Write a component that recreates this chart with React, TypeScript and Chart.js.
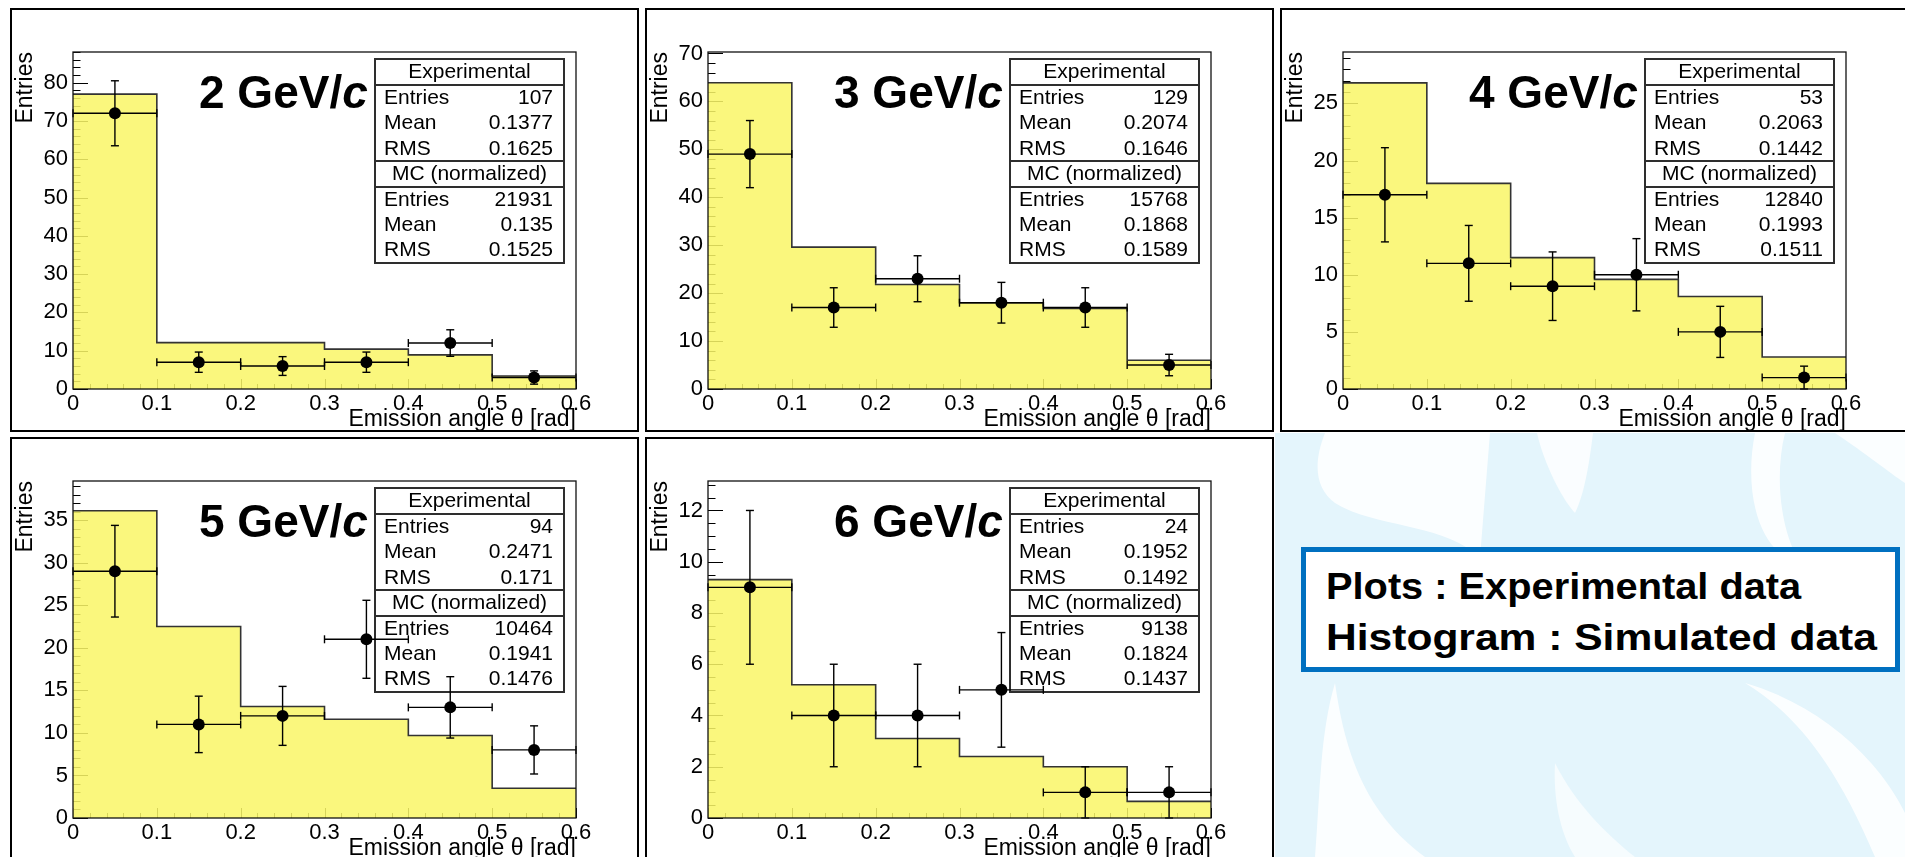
import { useEffect, useRef } from 'react';
import { Chart, registerables } from 'chart.js';

Chart.register(...registerables);

const FONT = "'Liberation Sans', Arial, Helvetica, sans-serif";

// Binning shared by every momentum slice (emission angle in rad)
const binEdges = [0, 0.1, 0.2, 0.3, 0.4, 0.5, 0.6];
const binCenters = [0.05, 0.15, 0.25, 0.35, 0.45, 0.55];
const xTickLabels = ['0', '0.1', '0.2', '0.3', '0.4', '0.5', '0.6'];
const statLabels = ['Entries', 'Mean', 'RMS'];

const momenta = ['2', '3', '4', '5', '6'];

// Measured counts per bin (experimental) and normalized simulation
const exp2 = [72, 7, 6, 7, 12, 3];
const mc2 = [77.0, 12.1, 12.1, 10.4, 8.9, 3.4];
const exp3 = [49, 17, 23, 18, 17, 5];
const mc3 = [63.9, 29.6, 21.8, 18.0, 16.8, 6.0];
const exp4 = [17, 11, 9, 10, 5, 1];
const mc4 = [26.8, 18.0, 11.5, 9.6, 8.1, 2.8];
const exp5 = [29, 11, 12, 21, 13, 8];
const mc5 = [36.1, 22.5, 13.1, 11.6, 9.7, 3.5];
const exp6 = [9, 4, 4, 5, 1, 1];
const mc6 = [9.3, 5.2, 3.1, 2.4, 2.0, 0.65];

// Statistics box contents: [Entries, Mean, RMS]
const expStats2 = ['107', '0.1377', '0.1625'];
const mcStats2 = ['21931', '0.135', '0.1525'];
const expStats3 = ['129', '0.2074', '0.1646'];
const mcStats3 = ['15768', '0.1868', '0.1589'];
const expStats4 = ['53', '0.2063', '0.1442'];
const mcStats4 = ['12840', '0.1993', '0.1511'];
const expStats5 = ['94', '0.2471', '0.171'];
const mcStats5 = ['10464', '0.1941', '0.1476'];
const expStats6 = ['24', '0.1952', '0.1492'];
const mcStats6 = ['9138', '0.1824', '0.1437'];

// Y axis ranges and divisions per slice
const yMaxima = [88, 70.3, 29.5, 39.6, 13.15];
const yMajorSteps = [10, 10, 5, 5, 2];
const yMinorSteps = [2, 2, 1, 1, 0.5];

const expSeries = [exp2, exp3, exp4, exp5, exp6];
const mcSeries = [mc2, mc3, mc4, mc5, mc6];
const expStatsAll = [expStats2, expStats3, expStats4, expStats5, expStats6];
const mcStatsAll = [mcStats2, mcStats3, mcStats4, mcStats5, mcStats6];

// Pad placement on the page (3 x 2 grid)
const padLeft = [10, 645, 1280, 10, 645];
const padTop = [8, 8, 8, 437, 437];
const PAD_W = 629;
const PAD_H = 424;

const HIST_FILL = 'rgba(249,246,104,0.86)';
const HIST_LINE = '#333333';

interface Slice {
  momentum: string;
  exp: number[];
  mc: number[];
  expStats: string[];
  mcStats: string[];
  yMax: number;
  yStep: number;
  yMinor: number;
}

const slices: Slice[] = momenta.map((m, i) => ({
  momentum: m,
  exp: expSeries[i],
  mc: mcSeries[i],
  expStats: expStatsAll[i],
  mcStats: mcStatsAll[i],
  yMax: yMaxima[i],
  yStep: yMajorSteps[i],
  yMinor: yMinorSteps[i],
}));

function line(ctx: CanvasRenderingContext2D, x1: number, y1: number, x2: number, y2: number) {
  ctx.beginPath();
  ctx.moveTo(x1, y1);
  ctx.lineTo(x2, y2);
  ctx.stroke();
}

// Inward ROOT-style tick marks on the left and bottom axes
function drawTicks(chart: any, s: Slice) {
  const { ctx, chartArea: ca } = chart;
  const xs = chart.scales.x;
  const ys = chart.scales.y;
  ctx.save();
  ctx.strokeStyle = '#000';
  ctx.lineWidth = 1;
  const ny = Math.floor(s.yMax / s.yMinor + 1e-9);
  for (let k = 0; k <= ny; k++) {
    const v = k * s.yMinor;
    const r = v / s.yStep;
    const major = Math.abs(r - Math.round(r)) < 1e-6;
    const py = Math.round(ys.getPixelForValue(v)) + 0.5;
    line(ctx, ca.left, py, ca.left + (major ? 15 : 7.5), py);
  }
  for (let k = 0; k <= 30; k++) {
    const v = k * 0.02;
    const major = k % 5 === 0;
    const px = Math.round(xs.getPixelForValue(v)) + 0.5;
    line(ctx, px, ca.bottom, px, ca.bottom - (major ? 10 : 5));
  }
  ctx.restore();
}

function drawFrame(chart: any) {
  const { ctx, chartArea: ca } = chart;
  ctx.save();
  ctx.strokeStyle = '#111';
  ctx.lineWidth = 1.3;
  ctx.strokeRect(ca.left, ca.top, ca.right - ca.left, ca.bottom - ca.top);
  ctx.restore();
}

function drawStatsBox(chart: any, s: Slice) {
  const { ctx, chartArea: ca } = chart;
  const w = 189;
  const h = 204;
  const x0 = ca.right - 12 - w;
  const y0 = ca.top + 7;
  ctx.save();
  ctx.fillStyle = '#fff';
  ctx.fillRect(x0, y0, w, h);
  ctx.strokeStyle = '#2e2e2e';
  ctx.lineWidth = 2;
  ctx.strokeRect(x0, y0, w, h);
  line(ctx, x0, y0 + 26, x0 + w, y0 + 26);
  line(ctx, x0, y0 + 102, x0 + w, y0 + 102);
  line(ctx, x0, y0 + 128, x0 + w, y0 + 128);
  ctx.fillStyle = '#000';
  ctx.font = `21px ${FONT}`;
  ctx.textBaseline = 'middle';
  ctx.textAlign = 'center';
  ctx.fillText('Experimental', x0 + w / 2, y0 + 13);
  ctx.fillText('MC (normalized)', x0 + w / 2, y0 + 115);
  const rowsA = [39, 64, 90];
  const rowsB = [141, 166, 191];
  statLabels.forEach((lab, i) => {
    ctx.textAlign = 'left';
    ctx.fillText(lab, x0 + 9, y0 + rowsA[i]);
    ctx.fillText(lab, x0 + 9, y0 + rowsB[i]);
    ctx.textAlign = 'right';
    ctx.fillText(s.expStats[i], x0 + w - 11, y0 + rowsA[i]);
    ctx.fillText(s.mcStats[i], x0 + w - 11, y0 + rowsB[i]);
  });
  ctx.restore();
}

// Poisson (sqrt N) vertical errors and bin-width horizontal bars
function drawErrorBars(chart: any, s: Slice) {
  const { ctx } = chart;
  const xs = chart.scales.x;
  const ys = chart.scales.y;
  ctx.save();
  ctx.strokeStyle = '#000';
  ctx.lineWidth = 1.4;
  s.exp.forEach((v, i) => {
    const cx = xs.getPixelForValue(binCenters[i]);
    const cy = ys.getPixelForValue(v);
    const xl = xs.getPixelForValue(binEdges[i]);
    const xr = xs.getPixelForValue(binEdges[i + 1]);
    const e = Math.sqrt(v);
    const yt = ys.getPixelForValue(v + e);
    const yb = ys.getPixelForValue(Math.max(0, v - e));
    line(ctx, xl, cy, xr, cy);
    line(ctx, xl, cy - 4, xl, cy + 4);
    line(ctx, xr, cy - 4, xr, cy + 4);
    line(ctx, cx, yt, cx, yb);
    line(ctx, cx - 4, yt, cx + 4, yt);
    line(ctx, cx - 4, yb, cx + 4, yb);
  });
  ctx.restore();
}

function drawTitle(chart: any, s: Slice) {
  const { ctx, chartArea: ca } = chart;
  const x = ca.left + 126;
  const y = ca.top + 56;
  ctx.save();
  ctx.fillStyle = '#000';
  ctx.textBaseline = 'alphabetic';
  ctx.textAlign = 'left';
  ctx.font = `bold 46px ${FONT}`;
  const head = `${s.momentum} GeV/`;
  ctx.fillText(head, x, y);
  const wHead = ctx.measureText(head).width;
  ctx.font = `italic bold 46px ${FONT}`;
  ctx.fillText('c', x + wHead, y);
  ctx.restore();
}

function makeDecor(s: Slice) {
  return {
    id: 'rootPadDecor',
    beforeDatasetsDraw(chart: any) {
      drawTicks(chart, s);
    },
    beforeDatasetDraw(chart: any, args: any) {
      if (args.index !== 1) return;
      drawStatsBox(chart, s);
      drawErrorBars(chart, s);
    },
    afterDatasetsDraw(chart: any) {
      drawFrame(chart);
    },
    afterDraw(chart: any) {
      drawTitle(chart, s);
    },
  };
}

function HistPad({ s, left, top }: { s: Slice; left: number; top: number }) {
  const ref = useRef<HTMLCanvasElement>(null);
  useEffect(() => {
    const canvas = ref.current;
    if (!canvas) return;
    const histPoints = s.mc.map((v, i) => ({ x: binEdges[i], y: v }));
    histPoints.push({ x: binEdges[binEdges.length - 1], y: s.mc[s.mc.length - 1] });
    const chart = new Chart(canvas, {
      type: 'scatter',
      data: {
        datasets: [
          {
            type: 'line',
            label: 'MC (normalized)',
            data: histPoints,
            order: 2,
            stepped: 'before',
            fill: 'origin',
            backgroundColor: HIST_FILL,
            borderColor: HIST_LINE,
            borderWidth: 1.6,
            pointRadius: 0,
            pointHoverRadius: 0,
            tension: 0,
          } as any,
          {
            type: 'scatter',
            label: 'Experimental',
            data: s.exp.map((v, i) => ({ x: binCenters[i], y: v })),
            order: 1,
            backgroundColor: '#000',
            borderColor: '#000',
            borderWidth: 0,
            pointRadius: 6,
            pointHoverRadius: 6,
          },
        ],
      },
      options: {
        animation: false,
        responsive: false,
        events: [],
        layout: { padding: { left: 0, top: 42, right: 61, bottom: 0 } },
        plugins: {
          legend: { display: false },
          tooltip: { enabled: false },
          title: { display: false },
        },
        scales: {
          x: {
            type: 'linear',
            min: 0,
            max: 0.6,
            afterFit: (sc: any) => {
              sc.height = 41;
            },
            grid: { display: false, drawTicks: false },
            border: { display: false },
            ticks: {
              stepSize: 0.1,
              padding: 2,
              color: '#000',
              font: { family: FONT, size: 22 },
              maxRotation: 0,
              autoSkip: false,
              includeBounds: false,
              callback: (v: any) => xTickLabels[Math.round(Number(v) * 10)] ?? '',
            },
            title: {
              display: true,
              text: 'Emission angle θ [rad]',
              align: 'end',
              color: '#000',
              padding: { top: 0, bottom: 0 },
              font: { family: FONT, size: 23, lineHeight: '20px' },
            },
          },
          y: {
            type: 'linear',
            min: 0,
            max: s.yMax,
            afterFit: (sc: any) => {
              sc.width = 61;
            },
            grid: { display: false, drawTicks: false },
            border: { display: false },
            ticks: {
              stepSize: s.yStep,
              padding: 5,
              color: '#000',
              font: { family: FONT, size: 22 },
              includeBounds: false,
              callback: (v: any) => String(Math.round(Number(v) * 100) / 100),
            },
            title: {
              display: true,
              text: 'Entries',
              align: 'end',
              color: '#000',
              padding: { top: 0, bottom: 0 },
              font: { family: FONT, size: 23 },
            },
          },
        },
      } as any,
      plugins: [makeDecor(s)],
    });
    return () => chart.destroy();
  }, [s]);

  return (
    <div
      style={{
        position: 'absolute',
        left,
        top,
        width: PAD_W,
        height: PAD_H,
        boxSizing: 'border-box',
        border: '2px solid #000',
        background: '#fff',
      }}
    >
      <canvas ref={ref} width={PAD_W - 4} height={PAD_H - 4} style={{ display: 'block' }} />
    </div>
  );
}

// Pale blue swirl backdrop behind the note in the empty sixth cell
function Backdrop() {
  return (
    <svg
      width={630}
      height={424}
      style={{ position: 'absolute', left: 1275, top: 433 }}
      viewBox="0 0 630 424"
    >
      <rect x={0} y={0} width={630} height={424} fill="#E4F5FC" />
      <path d="M 50 0 C 38 30, 40 55, 60 70 C 100 95, 170 90, 205 125 L 215 0 Z" fill="#ffffff" opacity={0.85} />
      <path d="M 262 0 C 270 35, 290 70, 300 80 C 310 60, 315 25, 318 0 Z" fill="#ffffff" opacity={0.8} />
      <path d="M 480 0 C 470 50, 480 100, 505 120 L 520 120 C 505 90, 500 40, 510 0 Z" fill="#ffffff" opacity={0.85} />
      <path d="M 560 0 C 590 20, 615 40, 630 50 L 630 0 Z" fill="#ffffff" opacity={0.85} />
      <path d="M 60 250 C 70 320, 90 380, 150 424 L 40 424 C 45 360, 45 300, 60 250 Z" fill="#ffffff" opacity={0.85} />
      <path d="M 470 250 C 520 280, 560 330, 600 424 L 630 424 L 630 380 C 600 320, 540 270, 470 250 Z" fill="#ffffff" opacity={0.85} />
      <path d="M 280 330 C 300 370, 330 400, 360 424 L 300 424 C 285 400, 278 365, 280 330 Z" fill="#ffffff" opacity={0.65} />
    </svg>
  );
}

function NoteBox() {
  const textStyle: React.CSSProperties = {
    position: 'absolute',
    left: 20,
    fontFamily: FONT,
    fontWeight: 'bold',
    fontSize: 37,
    lineHeight: '51px',
    color: '#000',
    whiteSpace: 'nowrap',
    transformOrigin: 'left center',
  };
  return (
    <div
      style={{
        position: 'absolute',
        left: 1301,
        top: 547,
        width: 599,
        height: 125,
        boxSizing: 'border-box',
        border: '5px solid #0070C0',
        background: '#fff',
      }}
    >
      <div style={{ ...textStyle, top: 9, transform: 'scaleX(1.075)' }}>Plots : Experimental data</div>
      <div style={{ ...textStyle, top: 60, transform: 'scaleX(1.15)' }}>Histogram : Simulated data</div>
    </div>
  );
}

export default function App() {
  return (
    <div
      style={{
        position: 'fixed',
        left: 0,
        top: 0,
        width: 1905,
        height: 857,
        overflow: 'hidden',
        background: '#fff',
      }}
    >
      <Backdrop />
      {slices.map((s, i) => (
        <HistPad key={s.momentum} s={s} left={padLeft[i]} top={padTop[i]} />
      ))}
      <NoteBox />
    </div>
  );
}
